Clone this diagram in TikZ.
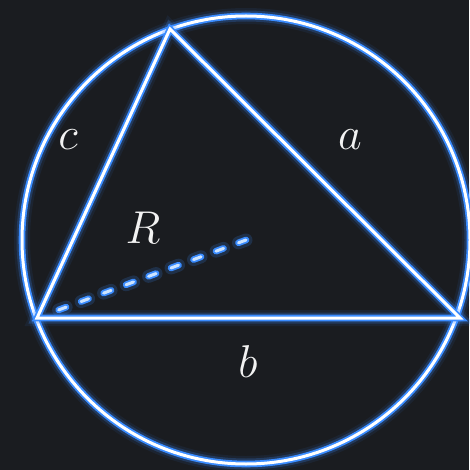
\RequirePackage{fix-cm}
\documentclass[tikz,border=0pt]{standalone}
\usepackage{tikz}
\usetikzlibrary{positioning, calc}
\definecolor{bgdark}{RGB}{26,28,32}
\definecolor{glowblue}{RGB}{58,140,255}
\definecolor{dashblue}{RGB}{205,228,255}

\begin{document}
\begin{tikzpicture}[x=1pt, y=-1pt,
  glowline/.style={draw=white, line width=3pt,
    preaction={draw=glowblue, line width=16pt, opacity=0.08},
    preaction={draw=glowblue, line width=11pt, opacity=0.22},
    preaction={draw=glowblue, line width=6.6pt}},
  glowdash/.style={draw=dashblue, line width=3pt, line cap=round, dash pattern=on 8pt off 16pt,
    preaction={draw=glowblue, line width=13pt, opacity=0.18, line cap=round, dash pattern=on 8pt off 16pt},
    preaction={draw=glowblue, line width=6.6pt, line cap=round, dash pattern=on 8pt off 16pt}},
  lbl/.style={text=white!95!black, font=\fontsize{46}{50}\selectfont}
]
  \fill[bgdark] (0,0) rectangle (469,470);
  \useasboundingbox (0,0) rectangle (469,470);
  % centre and vertices
  \coordinate (O) at (246,240);
  \coordinate (A) at (37,318);
  \coordinate (B) at (460,318);
  \coordinate (C) at (170,29);
  \coordinate (Rend) at ($(O)!0.93!(A)$);
  % circumcircle and triangle
  \draw[glowline] (O) circle[radius=224];
  \draw[glowline] (A) -- (B) -- (C) -- cycle;
  \draw[glowdash] (O) -- (Rend);
  % labels
  \node[lbl] (labc) at (68,140) {$c$};
  \node[lbl] (laba) at (350,140) {$a$};
  \node[lbl] (labR) at (143,228) {$R$};
  \node[lbl] (labb) at (248,362) {$b$};
\end{tikzpicture}
\end{document}
